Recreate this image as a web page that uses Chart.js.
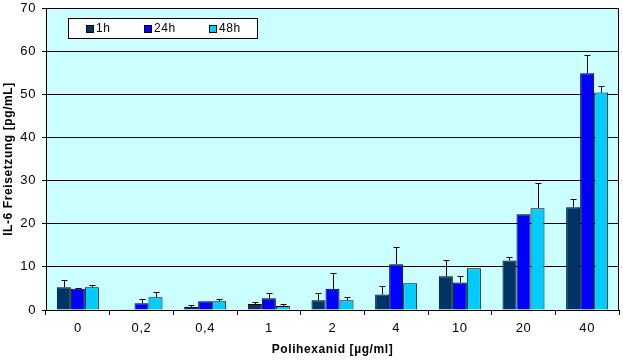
<!DOCTYPE html>
<html>
<head>
<meta charset="utf-8">
<script src="https://cdn.jsdelivr.net/npm/chart.js@4"></script>
<style>
  html, body { margin: 0; padding: 0; background: #fff; }
  #wrap { width: 623px; height: 362px; }
</style>
</head>
<body>
<div id="wrap"><canvas id="myChart" width="623" height="362"></canvas></div>
<script>
const categories = ["0", "0,2", "0,4", "1", "2", "4", "10", "20", "40"];
const seriesNames = ["1h", "24h", "48h"];

const values1h = [5.3, 0.2, 0.7, 1.4, 2.25, 3.6, 7.8, 11.5, 23.8];
const values24h = [4.9, 1.55, 2.0, 2.7, 4.9, 10.6, 6.4, 22.2, 54.9];
const values48h = [5.3, 2.95, 2.0, 0.9, 2.25, 6.2, 9.7, 23.6, 50.4];

// upper error (only the plus side is drawn)
const err1h = [1.7, 0, 0.4, 0.4, 1.65, 1.9, 3.7, 0.7, 1.9];
const err24h = [0.2, 1.0, 0, 1.2, 3.6, 3.9, 1.4, 0, 4.1];
const err48h = [0.4, 1.15, 0.5, 0.4, 0.7, 0, 0, 5.8, 1.6];

const yTicks = [0, 10, 20, 30, 40, 50, 60, 70];

const colors = ["#003366", "#0000FF", "#00CCFF"];
const errors = [err1h, err24h, err48h];
const font = "Arial, 'Liberation Sans', sans-serif";

// plot background and frame
const plotBg = {
  id: "plotBg",
  beforeDraw(chart) {
    const { ctx, chartArea: a } = chart;
    ctx.letterSpacing = "0.6px";
    ctx.save();
    ctx.fillStyle = "#CCFFFF";
    ctx.fillRect(a.left, a.top, a.right - a.left, a.bottom - a.top);
    ctx.restore();
  },
  afterDatasetsDraw(chart) {
    const { ctx, chartArea: a } = chart;
    ctx.save();
    ctx.strokeStyle = "#000";
    ctx.lineWidth = 1;
    ctx.beginPath();
    ctx.moveTo(Math.round(a.right) - 0.5, a.top);
    ctx.lineTo(Math.round(a.right) - 0.5, a.bottom);
    ctx.stroke();
    ctx.restore();
  },
};

// excel style plus-only error bars
const errorBars = {
  id: "errorBars",
  afterDatasetsDraw(chart) {
    const { ctx } = chart;
    const y = chart.scales.y;
    ctx.save();
    ctx.strokeStyle = "#000";
    ctx.lineWidth = 1;
    chart.data.datasets.forEach((ds, i) => {
      const meta = chart.getDatasetMeta(i);
      meta.data.forEach((bar, j) => {
        const e = errors[i][j];
        if (!e) return;
        const x = Math.round(bar.x) + 0.5;
        const y0 = y.getPixelForValue(ds.data[j]);
        const y1 = Math.round(y.getPixelForValue(ds.data[j] + e)) + 0.5;
        ctx.beginPath();
        ctx.moveTo(x, y0);
        ctx.lineTo(x, y1);
        ctx.moveTo(x - 3, y1);
        ctx.lineTo(x + 3, y1);
        ctx.stroke();
      });
    });
    ctx.restore();
  },
};

// legend box drawn inside the plot
const boxLegend = {
  id: "boxLegend",
  afterDraw(chart) {
    const { ctx } = chart;
    const lx = 68, ly = 18, lw = 189, lh = 20;
    const itemX = [86, 144, 209];
    ctx.save();
    ctx.fillStyle = "#fff";
    ctx.fillRect(lx, ly, lw, lh);
    ctx.strokeStyle = "#000";
    ctx.lineWidth = 1;
    ctx.strokeRect(lx + 0.5, ly + 0.5, lw, lh);
    ctx.font = "12px " + font;
    ctx.textBaseline = "middle";
    chart.data.datasets.forEach((ds, i) => {
      ctx.fillStyle = ds.backgroundColor;
      ctx.fillRect(itemX[i], 25, 7, 7);
      ctx.strokeRect(itemX[i] + 0.5, 25.5, 7, 7);
      ctx.fillStyle = "#000";
      ctx.fillText(ds.label, itemX[i] + 10, 29);
    });
    ctx.restore();
  },
};

const ctx = document.getElementById("myChart").getContext("2d");
new Chart(ctx, {
  type: "bar",
  data: {
    labels: categories,
    datasets: [values1h, values24h, values48h].map((vals, i) => ({
      label: seriesNames[i],
      data: vals,
      backgroundColor: colors[i],
      borderColor: "#000",
      borderWidth: 1,
      categoryPercentage: 0.66,
      barPercentage: 1,
    })),
  },
  options: {
    responsive: false,
    animation: false,
    layout: { padding: { top: 8, right: 4, left: 0, bottom: 0 } },
    plugins: {
      legend: { display: false },
      tooltip: { enabled: false },
    },
    scales: {
      x: {
        afterFit(scale) {
          scale.height = 52;
          scale.paddingLeft = 0;
          scale.paddingRight = 0;
        },
        grid: {
          offset: true,
          drawOnChartArea: false,
          drawTicks: true,
          tickLength: 5,
          color: "#000",
        },
        border: { display: true, color: "#000" },
        ticks: { color: "#000", padding: 6, font: { family: font, size: 13 } },
        title: {
          display: true,
          text: "Polihexanid [µg/ml]",
          color: "#000",
          font: { family: font, size: 12, weight: "bold" },
          padding: { top: 0, bottom: 5 },
        },
      },
      y: {
        min: 0,
        max: 70,
        afterFit(scale) {
          scale.width = 46;
          scale.paddingTop = 0;
          scale.paddingBottom = 0;
        },
        afterBuildTicks(scale) { scale.ticks = yTicks.map((v) => ({ value: v })); },
        grid: { color: "#000", tickLength: 4, drawTicks: true },
        border: { display: true, color: "#000" },
        ticks: { color: "#000", padding: 6, font: { family: font, size: 13 } },
        title: {
          display: true,
          text: "IL-6 Freisetzung [pg/mL]",
          color: "#000",
          font: { family: font, size: 12, weight: "bold" },
          padding: { top: 1, bottom: 0 },
        },
      },
    },
  },
  plugins: [plotBg, errorBars, boxLegend],
});
</script>
</body>
</html>
